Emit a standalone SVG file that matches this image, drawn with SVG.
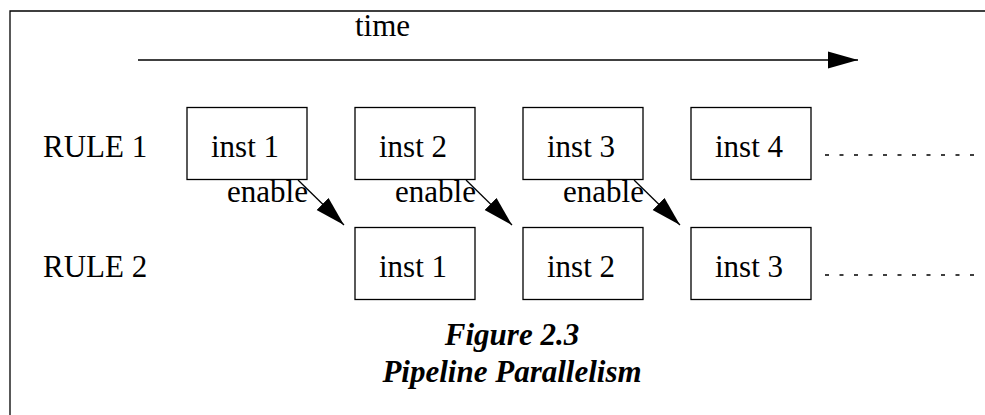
<svg xmlns="http://www.w3.org/2000/svg" width="985" height="415" viewBox="0 0 985 415">
<style>
text{font-family:"Liberation Serif","Times New Roman",serif;font-size:31px;fill:#000}
.box{fill:#fff;stroke:#000;stroke-width:1.3}
.c{text-anchor:middle}
.cap{font-weight:bold;font-style:italic;text-anchor:middle}
.ln{stroke:#000;stroke-width:1.3;fill:none}
.dot{stroke:#000;stroke-width:1.3;stroke-dasharray:4 10.5;fill:none}
</style>
<defs>
<marker id="ah" markerWidth="30" markerHeight="18" refX="30" refY="9" orient="auto" markerUnits="userSpaceOnUse">
<polygon points="0,0.5 30,9 0,17.5" fill="#000"/>
</marker>
</defs>
<g id="frame">
<path d="M10,415 V11 H985" class="ln"/>
</g>
<g id="time">
<text x="355" y="36">time</text>
</g>
<g id="labels">
<text x="43" y="157">RULE 1</text>
<text x="43" y="277">RULE 2</text>
</g>
<g id="r1i1"><rect class="box" x="187" y="107.5" width="120" height="72"/><text class="c" x="245" y="157">inst 1</text></g>
<g id="r1i2"><rect class="box" x="355" y="107.5" width="120" height="72"/><text class="c" x="413" y="157">inst 2</text></g>
<g id="r1i3"><rect class="box" x="523" y="107.5" width="120" height="72"/><text class="c" x="581" y="157">inst 3</text></g>
<g id="r1i4"><rect class="box" x="691" y="107.5" width="120" height="72"/><text class="c" x="749" y="157">inst 4</text></g>
<g id="r2i1"><rect class="box" x="355" y="227.5" width="120" height="72"/><text class="c" x="413" y="277">inst 1</text></g>
<g id="r2i2"><rect class="box" x="523" y="227.5" width="120" height="72"/><text class="c" x="581" y="277">inst 2</text></g>
<g id="r2i3"><rect class="box" x="691" y="227.5" width="120" height="72"/><text class="c" x="749" y="277">inst 3</text></g>
<g id="connectors">
<line class="ln" x1="138" y1="60" x2="858" y2="60" marker-end="url(#ah)"/>
<line class="ln" x1="298" y1="180" x2="344" y2="225" marker-end="url(#ah)"/>
<line class="ln" x1="466" y1="180" x2="512" y2="225" marker-end="url(#ah)"/>
<line class="ln" x1="634" y1="180" x2="680" y2="225" marker-end="url(#ah)"/>
<line class="dot" x1="825" y1="155" x2="975" y2="155"/>
<line class="dot" x1="825" y1="275" x2="975" y2="275"/>
</g>
<g id="enable-labels">
<text x="227" y="202">enable</text>
<text x="395" y="202">enable</text>
<text x="563" y="202">enable</text>
</g>
<g id="caption">
<text class="cap" x="512" y="345">Figure 2.3</text>
<text class="cap" x="512" y="382">Pipeline Parallelism</text>
</g>
</svg>
